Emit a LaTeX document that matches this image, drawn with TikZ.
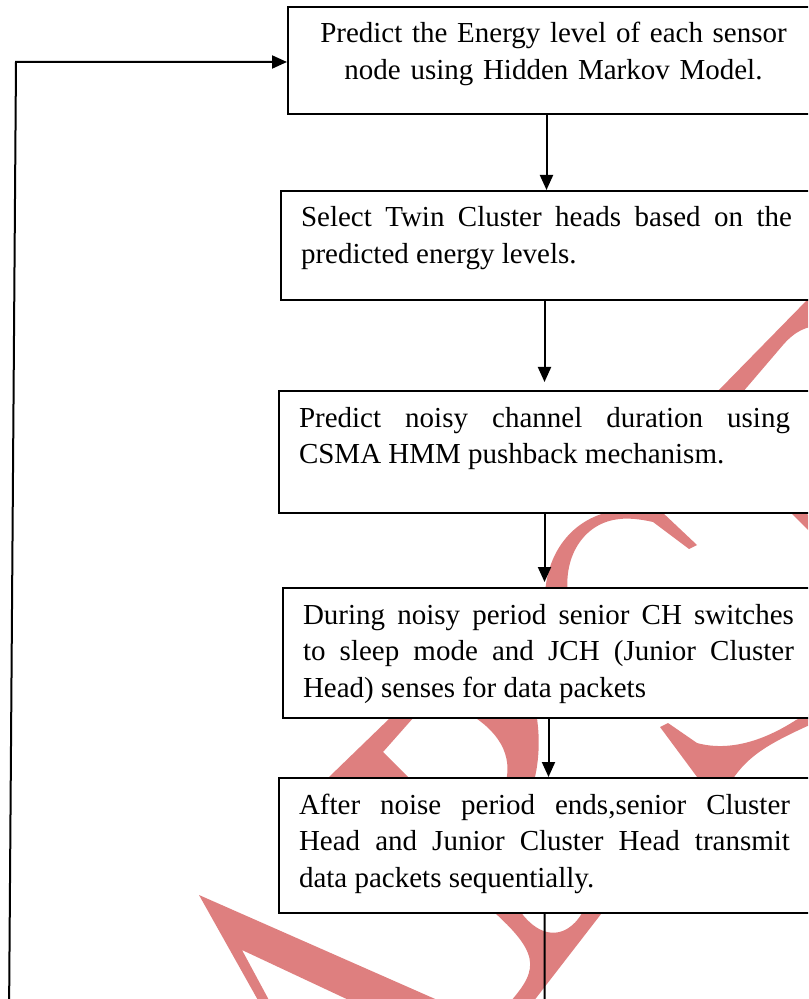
\documentclass[tikz,border=0pt]{standalone}
\usepackage{fontspec}
\setmainfont{Liberation Serif}
\usetikzlibrary{arrows.meta,calc}
\definecolor{wmred}{HTML}{DE7F7F}

\begin{document}
\begin{tikzpicture}[
  x=0.5pt, y=-0.5pt, line width=1pt,
  font=\fontsize{14.5}{18.25}\selectfont, >={Triangle[length=7.5pt,width=6.5pt]},
  stage/.style={draw, fill=white, anchor=north west, text width=245.5pt,
    align=justify, inner xsep=10pt, inner ysep=8pt, text height=10pt},
  wm/.style={fill=wmred, draw=none},
]
\useasboundingbox (0,0) rectangle (808,999);
\clip (0,0) rectangle (808,999);

% ===== watermark fragments (behind the boxes) =====
\fill[wm] (199,895) -- (442,1002) -- (353,1002) -- (242,950) -- (270,1002) -- (259,1002) -- cycle;
\fill[wm] (329,777) -- (391,717) -- (414,717) -- (383,752) -- (408,777) -- cycle;
\fill[wm] (466,712) .. controls (498,730) and (514,755) .. (505,785) -- (533,785)
  .. controls (540,760) and (540,735) .. (536,712) -- cycle;
\fill[wm] (660,727) -- (703,785) -- (729,785) .. controls (745,758) and (765,745) .. (812,724)
  -- (812,712) -- (796,720) .. controls (765,740) and (730,752) .. (697,743) -- (668,723) -- cycle;
\fill[wm] (545,595) .. controls (547,550) and (575,515) .. (620,510)
  .. controls (640,509) and (655,510) .. (662,512) -- (697,545) -- (689,549)
  -- (653,522) .. controls (640,519) and (628,518) .. (620,519)
  .. controls (585,522) and (563,555) .. (568,595) -- cycle;
\fill[wm] (788,510) -- (803,510) -- (812,519) -- (812,534) -- cycle;
\fill[wm] (716,393) -- (810,297) -- (810,327) .. controls (798,330) and (790,337) .. (783,345)
  -- (742,393) -- cycle;
\fill[wm] (486,905) -- (516,905) .. controls (530,928) and (548,938) .. (565,930)
  .. controls (575,925) and (582,915) .. (586,905) -- (608,905) -- (533,1002) -- (510,1002)
  .. controls (540,968) and (540,952) .. (486,905) -- cycle;

% ===== flow boxes =====
\node[stage, align=center, text depth=27.5pt] (EN) at (287,6)
  {Predict the Energy level of each sensor node using Hidden Markov Model.};
\node[stage, text depth=28.5pt] (CH) at (280,190)
  {Select Twin Cluster heads based on the\linebreak predicted energy levels.};
\node[stage, text depth=35pt] (NC) at (278,390)
  {Predict noisy channel duration using\linebreak CSMA HMM pushback mechanism.};
\node[stage, text depth=39pt] (SL) at (282,587)
  {During noisy period senior CH switches\linebreak to sleep mode and JCH (Junior Cluster\linebreak Head) senses for data packets};
\node[stage, text depth=41.5pt] (TX) at (278,777)
  {After noise period ends,senior Cluster\linebreak Head and Junior Cluster Head transmit\linebreak data packets sequentially.};

% ===== arrows between stages =====
\draw[->] (EN.south -| CH.north) -- (CH.north);
\draw[->] (CH.south -| NC.north) -- ($(NC.north)+(0,-8)$);
\draw[->] (NC.south) -- ($(NC.south |- SL.north)+(0,-5)$);
\draw[->] (SL.south) -- (SL.south |- TX.north);

% ===== feedback loop back to the first stage =====
\coordinate (loopL) at (9,1020);
\coordinate (loopT) at (16,62);
\draw[->] (TX.south) |- (loopL) -- (loopT) -- (loopT -| EN.west);
\end{tikzpicture}
\end{document}
